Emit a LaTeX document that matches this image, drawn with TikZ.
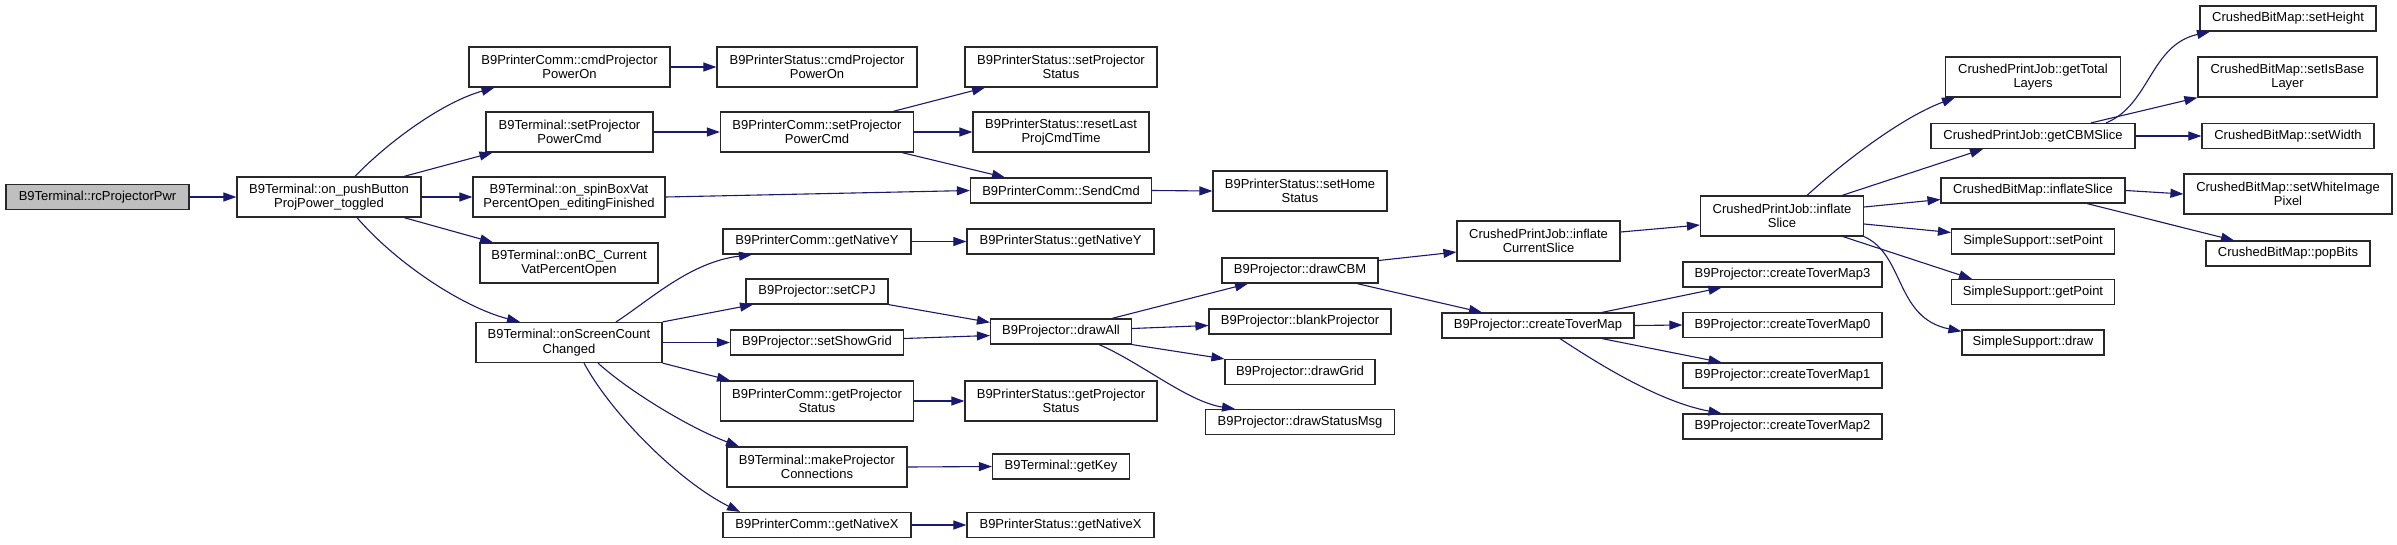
\documentclass[tikz,border=0pt]{standalone}
\usepackage{fontspec}
\setmainfont{Liberation Sans}
\usetikzlibrary{arrows.meta}
\definecolor{EdgeBlue}{RGB}{25,25,112}
\definecolor{RootGray}{RGB}{191,191,191}
\definecolor{BoxLine}{RGB}{40,40,40}

\begin{document}
\begin{tikzpicture}[
      x=1pt, y=-1pt,
      every node/.style={font=\fontsize{13}{14.5}\selectfont, align=center},
      fn/.style={draw=BoxLine, line width=1.2pt, fill=white, inner sep=2pt,
                 minimum height=25pt},
      fnn/.style={fn, minimum height=40pt},
      root/.style={fn, fill=RootGray},
      arr/.style={draw=EdgeBlue, line width=1.1pt,
                  -{Triangle[length=13pt,width=9pt]}, EdgeBlue}
  ]
    \useasboundingbox[fill=white] (0,0) rectangle (2397,544);

    \node[root, minimum width=183pt] (root) at (97.5,197) {B9Terminal::rcProjectorPwr};
    \node[fnn, minimum width=184pt] (pb) at (329,197) {B9Terminal::on\_pushButton\\ProjPower\_toggled};

    \node[fnn, minimum width=201pt] (pcCmdOn) at (569.5,67) {B9PrinterComm::cmdProjector\\PowerOn};
    \node[fnn, minimum width=167pt] (tSetPwr) at (569.5,132) {B9Terminal::setProjector\\PowerCmd};
    \node[fnn, minimum width=192pt] (tSpin) at (569,197) {B9Terminal::on\_spinBoxVat\\PercentOpen\_editingFinished};
    \node[fnn, minimum width=178pt] (tOnBC) at (569,263) {B9Terminal::onBC\_Current\\VatPercentOpen};
    \node[fnn, minimum width=186pt] (tScreen) at (569,342.5) {B9Terminal::onScreenCount\\Changed};

    \node[fnn, minimum width=200pt] (psCmdOn) at (817,67) {B9PrinterStatus::cmdProjector\\PowerOn};
    \node[fnn, minimum width=193pt] (pcSetPwr) at (817,132) {B9PrinterComm::setProjector\\PowerCmd};
    \node[fn, minimum width=188pt] (pcNatY) at (817,241.5) {B9PrinterComm::getNativeY};
    \node[fn, minimum width=142pt] (pSetCPJ) at (817,291.5) {B9Projector::setCPJ};
    \node[fn, minimum width=173pt] (pShowGrid) at (817,342.5) {B9Projector::setShowGrid};
    \node[fnn, minimum width=193pt] (pcGetStat) at (817,401) {B9PrinterComm::getProjector\\Status};
    \node[fnn, minimum width=180pt] (tMakeConn) at (817,467) {B9Terminal::makeProjector\\Connections};
    \node[fn, minimum width=188pt] (pcNatX) at (817,525) {B9PrinterComm::getNativeX};

    \node[fnn, minimum width=192pt] (psSetStat) at (1061,67) {B9PrinterStatus::setProjector\\Status};
    \node[fnn, minimum width=176pt] (psReset) at (1061,132) {B9PrinterStatus::resetLast\\ProjCmdTime};
    \node[fn, minimum width=181pt] (pcSend) at (1061,190.5) {B9PrinterComm::SendCmd};
    \node[fn, minimum width=187pt] (psNatY) at (1060.5,241.5) {B9PrinterStatus::getNativeY};
    \node[fn, minimum width=141pt] (pDrawAll) at (1061,331.5) {B9Projector::drawAll};
    \node[fnn, minimum width=192pt] (psGetStat) at (1061,401) {B9PrinterStatus::getProjector\\Status};
    \node[fn, minimum width=137pt] (tGetKey) at (1061,466.5) {B9Terminal::getKey};
    \node[fn, minimum width=187pt] (psNatX) at (1060.5,525) {B9PrinterStatus::getNativeX};

    \node[fnn, minimum width=174pt] (psHome) at (1300,191) {B9PrinterStatus::setHome\\Status};
    \node[fn, minimum width=156pt] (pDrawCBM) at (1300,270.5) {B9Projector::drawCBM};
    \node[fn, minimum width=182pt] (pBlank) at (1300,321.5) {B9Projector::blankProjector};
    \node[fn, minimum width=150pt] (pDrawGrid) at (1300,372) {B9Projector::drawGrid};
    \node[fn, minimum width=189pt] (pStatusMsg) at (1300,422) {B9Projector::drawStatusMsg};

    \node[fnn, minimum width=163pt] (jInflCur) at (1538.5,241) {CrushedPrintJob::inflate\\CurrentSlice};
    \node[fn, minimum width=192pt] (pTover) at (1538,325.5) {B9Projector::createToverMap};

    \node[fnn, minimum width=163pt] (jInfl) at (1782,216) {CrushedPrintJob::inflate\\Slice};
    \node[fn, minimum width=199pt] (pTover3) at (1782.5,274.5) {B9Projector::createToverMap3};
    \node[fn, minimum width=199pt] (pTover0) at (1782.5,325) {B9Projector::createToverMap0};
    \node[fn, minimum width=199pt] (pTover1) at (1782.5,375.5) {B9Projector::createToverMap1};
    \node[fn, minimum width=199pt] (pTover2) at (1782.5,426.5) {B9Projector::createToverMap2};

    \node[fnn, minimum width=175pt] (jTotal) at (2033,77) {CrushedPrintJob::getTotal\\Layers};
    \node[fn, minimum width=204pt] (jCBMSlice) at (2033,136) {CrushedPrintJob::getCBMSlice};
    \node[fn, minimum width=184pt] (bInfl) at (2033,190.5) {CrushedBitMap::inflateSlice};
    \node[fn, minimum width=163pt] (sSet) at (2033,241.5) {SimpleSupport::setPoint};
    \node[fn, minimum width=163pt] (sGet) at (2033,292) {SimpleSupport::getPoint};
    \node[fn, minimum width=142pt] (sDraw) at (2033,342.5) {SimpleSupport::draw};

    \node[fn, minimum width=176pt] (bHeight) at (2288,18.5) {CrushedBitMap::setHeight};
    \node[fnn, minimum width=179pt] (bBase) at (2287.5,77) {CrushedBitMap::setIsBase\\Layer};
    \node[fn, minimum width=172pt] (bWidth) at (2288,136) {CrushedBitMap::setWidth};
    \node[fnn, minimum width=208pt] (bWhite) at (2288,194) {CrushedBitMap::setWhiteImage\\Pixel};
    \node[fn, minimum width=164pt] (bPop) at (2288,253.5) {CrushedBitMap::popBits};

    \draw[arr] (root) -- (pb);
    \draw[arr] ([xshift=26pt]pb.north) .. controls (385,145) and (440,103) .. ([xshift=-75pt]pcCmdOn.south);
    \draw[arr] ([xshift=75pt]pb.north) -- ([xshift=-77pt]tSetPwr.south);
    \draw[arr] (pb.east) -- (tSpin.west);
    \draw[arr] ([xshift=75pt]pb.south) -- ([xshift=-76pt]tOnBC.north);
    \draw[arr] ([xshift=28pt]pb.south) .. controls (395,262) and (462,307) .. ([xshift=-49pt]tScreen.north);

    \draw[arr] ([xshift=47pt]tScreen.north) .. controls (650,300) and (690,262) .. ([xshift=-65pt]pcNatY.south);
    \draw[arr] (tScreen.north east) -- ([xshift=-64pt]pSetCPJ.south);
    \draw[arr] (tScreen.east) -- (pShowGrid.west);
    \draw[arr] (tScreen.south east) -- ([xshift=-87pt]pcGetStat.north);
    \draw[arr] ([xshift=29pt]tScreen.south) .. controls (630,392) and (690,428) .. ([xshift=-78pt]tMakeConn.north);
    \draw[arr] ([xshift=15pt]tScreen.south) .. controls (612,415) and (680,482) .. ([xshift=-77pt]pcNatX.north);

    \draw[arr] (pcCmdOn.east) -- (psCmdOn.west);
    \draw[arr] (tSetPwr.east) -- (pcSetPwr.west);
    \draw[arr] (tSpin.east) -- (pcSend.west);
    \draw[arr] ([xshift=76pt]pcSetPwr.north) -- ([xshift=-76pt]psSetStat.south);
    \draw[arr] (pcSetPwr.east) -- (psReset.west);
    \draw[arr] ([xshift=85pt]pcSetPwr.south) -- ([xshift=-56pt]pcSend.north);
    \draw[arr] (pcSend.east) -- (psHome.west);
    \draw[arr] (pcNatY.east) -- (psNatY.west);
    \draw[arr] (pSetCPJ.south east) -- ([yshift=-4pt]pDrawAll.north west);
    \draw[arr] ([yshift=4pt]pShowGrid.east) -- ([yshift=-4pt]pDrawAll.west);
    \draw[arr] (pcGetStat.east) -- (psGetStat.west);
    \draw[arr] (tMakeConn.east) -- (tGetKey.west);
    \draw[arr] (pcNatX.east) -- (psNatX.west);

    \draw[arr] ([xshift=51pt]pDrawAll.north) -- ([xshift=-52pt]pDrawCBM.south);
    \draw[arr] ([yshift=3pt]pDrawAll.east) -- ([yshift=-4pt]pBlank.west);
    \draw[arr] (pDrawAll.south east) -- (pDrawGrid.north west);
    \draw[arr] ([xshift=38pt]pDrawAll.south) .. controls (1140,362) and (1188,402) .. ([xshift=-65pt]pStatusMsg.north);

    \draw[arr] ([yshift=10pt]pDrawCBM.east) -- ([yshift=-11pt]jInflCur.west);
    \draw[arr] ([xshift=57pt]pDrawCBM.south) -- ([xshift=-56pt]pTover.north);
    \draw[arr] ([yshift=9pt]jInflCur.east) -- ([yshift=-9pt]jInfl.west);
    \draw[arr] ([xshift=64pt]pTover.north) -- ([xshift=-61pt]pTover3.south);
    \draw[arr] (pTover.east) -- (pTover0.west);
    \draw[arr] ([xshift=64pt]pTover.south) -- ([xshift=-61pt]pTover1.north);
    \draw[arr] ([xshift=22pt]pTover.south) .. controls (1600,365) and (1660,402) .. ([xshift=-61pt]pTover2.north);

    \draw[arr] ([xshift=25pt]jInfl.north) .. controls (1840,165) and (1900,118) .. ([xshift=-78pt]jTotal.south);
    \draw[arr] ([xshift=60pt]jInfl.north) -- ([xshift=-50pt]jCBMSlice.south);
    \draw[arr] ([yshift=9pt]jInfl.east) -- ([yshift=-9pt]bInfl.west);
    \draw[arr] ([yshift=-8pt]jInfl.east) -- ([yshift=9pt]sSet.west);
    \draw[arr] ([xshift=61pt]jInfl.south) -- ([xshift=-61pt]sGet.north);
    \draw[arr] (jInfl.south east) .. controls (1905,255) and (1895,318) .. ([yshift=-2pt]sDraw.north west);

    \draw[arr] ([xshift=73pt]jCBMSlice.north) .. controls (2150,105) and (2150,45) .. ([xshift=-78pt]bHeight.south);
    \draw[arr] ([xshift=58pt]jCBMSlice.north) -- (bBase.south west);
    \draw[arr] (jCBMSlice.east) -- (bWidth.west);
    \draw[arr] (bInfl.east) -- (bWhite.west);
    \draw[arr] ([xshift=54pt]bInfl.south) -- ([xshift=-54pt]bPop.north);
  \end{tikzpicture}
\end{document}
